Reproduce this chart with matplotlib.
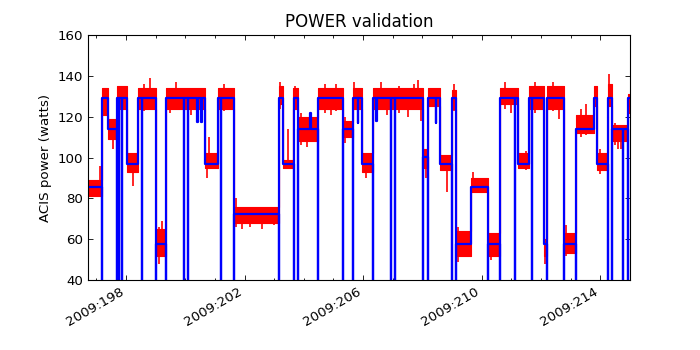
"""ACIS power validation: telemetry (red) vs model (blue), 2009:197-215."""
import numpy as np
import matplotlib
matplotlib.use("Agg")
import matplotlib.pyplot as plt

# model (blue): segment start day-of-year, power level (W), zero-drop at start
model_t = [196.72, 197.18, 197.40, 197.71, 197.76, 197.88, 198.03, 198.42, 198.53,
           199.00, 199.34, 199.96, 200.10, 200.40, 200.42, 200.54, 200.56, 200.67,
           201.09, 201.21, 201.65, 203.17, 203.31, 203.66, 203.79, 204.22, 204.25,
           204.47, 205.31, 205.67, 205.82, 205.84, 205.96, 206.32, 206.45, 206.47,
           206.93, 207.06, 208.03, 208.20, 208.45, 208.47, 208.59, 208.99, 209.12,
           209.63, 210.20, 210.62, 211.12, 211.23, 211.59, 211.71, 212.10, 212.19,
           212.78, 213.18, 213.79, 213.88, 214.27, 214.38, 214.75, 214.94]
model_v = [85.7, 129.3, 114.1, 129.3, 129.3, 129.3, 96.6, 129.3, 129.3,
           57.5, 129.3, 129.3, 129.3, 117.5, 129.3, 117.5, 129.3, 96.6,
           129.3, 129.3, 72.3, 129.3, 96.6, 129.3, 114.1, 122.0, 114.1,
           129.3, 114.1, 129.3, 117.0, 129.3, 96.6, 129.3, 118.0, 129.3,
           129.3, 129.3, 100.4, 129.3, 116.8, 129.3, 96.6, 129.3, 57.5,
           85.7, 57.5, 129.3, 129.3, 96.6, 129.3, 129.3, 57.5, 129.3,
           57.5, 114.1, 129.3, 96.6, 129.3, 114.1, 114.1, 129.3]
model_gap = [0, 1, 0, 1, 1, 1, 0, 0, 1,
             1, 1, 1, 1, 0, 0, 0, 0, 0,
             0, 1, 1, 1, 0, 1, 1, 0, 0,
             1, 1, 1, 0, 0, 0, 1, 0, 0,
             1, 1, 1, 1, 0, 0, 0, 1, 1,
             0, 1, 1, 1, 0, 0, 1, 0, 1,
             1, 1, 0, 0, 1, 1, 1, 1]
t_end = 215.0

# telemetry (red): segment start day, envelope low / high (W)
tlm_t = [196.72, 197.18, 197.40, 197.71, 198.03, 198.42, 199.00, 199.34, 200.67,
         201.09, 201.65, 203.17, 203.31, 203.64, 203.79, 204.47, 205.31, 205.67,
         205.96, 206.32, 208.03, 208.20, 208.59, 208.99, 209.12, 209.63, 210.20,
         210.62, 211.23, 211.59, 212.10, 212.19, 212.78, 213.18, 213.79, 213.88,
         214.27, 214.38, 214.94]
tlm_lo = [81, 121, 109, 124, 93, 124, 52, 124, 95,
          124, 68, 126, 95, 124, 108, 124, 110, 124,
          93, 124, 95, 125, 94, 124, 52, 83, 52,
          126, 95, 124, 52, 124, 53, 112, 125, 94,
          125, 108, 122]
tlm_hi = [89, 134, 119, 135, 102, 134, 65, 134, 102,
          134, 76, 135, 99, 134, 120, 134, 118, 134,
          102, 134, 104, 134, 101, 133, 64, 90, 63,
          134, 102, 135, 60, 135, 63, 121, 135, 102,
          136, 116, 131]

# telemetry excursions beyond the envelope: day, low, high
spike_t = [197.12, 197.55, 198.25, 198.81, 199.10, 199.20, 200.75, 200.80, 201.70,
           201.90, 203.20, 203.46, 203.90, 204.10, 205.40, 205.70, 206.10, 207.85,
           207.95, 208.12, 208.82, 209.05, 209.20, 209.70, 210.30, 211.50, 212.15,
           212.85, 213.35, 214.00, 214.28, 214.60,
           198.60, 199.50, 199.70, 200.20, 201.30, 203.70, 204.70, 204.90, 205.10,
           206.60, 206.80, 207.20, 207.50, 207.70, 210.80, 211.00, 211.80, 212.40,
           212.60, 202.20, 202.60, 203.00, 213.50, 214.50, 214.70]
spike_lo = [84, 104, 86, 128, 48, 56, 90, 96, 66,
            65, 124, 96, 106, 105, 107, 126, 90, 124,
            118, 90, 83, 123, 49, 84, 50, 94, 48,
            52, 110, 92, 125, 104,
            123, 122, 125, 121, 123, 126, 122, 121, 123,
            125, 121, 122, 120, 126, 124, 122, 122, 123,
            119, 66, 65, 67, 111, 106, 104]
spike_hi = [96, 116, 100, 139, 66, 69, 100, 110, 80,
            74, 137, 114, 122, 118, 120, 137, 101, 138,
            128, 100, 96, 136, 66, 93, 62, 103, 60,
            67, 124, 104, 141, 116,
            136, 133, 137, 131, 136, 135, 136, 133, 136,
            137, 133, 135, 131, 136, 137, 133, 137, 137,
            131, 75, 74, 73, 126, 117, 113]

major_days = [198, 202, 206, 210, 214]
major_labels = ["2009:198", "2009:202", "2009:206", "2009:210", "2009:214"]

plt.rcParams["font.family"] = "DejaVu Sans"
plt.rcParams["font.size"] = 9.6

fig = plt.figure(figsize=(7, 3.5), dpi=100)
ax = fig.add_axes([0.1257, 0.2, 0.9 - 0.1257, 0.7])

# red telemetry envelope
rt = np.array(tlm_t + [t_end])
rlo = np.array(tlm_lo + [tlm_lo[-1]])
rhi = np.array(tlm_hi + [tlm_hi[-1]])
ax.fill_between(rt, rlo, rhi, step="post", color="r", lw=0.8, edgecolor="r")
ax.vlines(spike_t, spike_lo, spike_hi, color="r", lw=1.2)

# blue model as steps with brief zero drops
bx, by = [], []
for i, (t, v, g) in enumerate(zip(model_t, model_v, model_gap)):
    if i > 0:
        bx.append(t); by.append(model_v[i - 1])
        if g:
            bx += [t, t]; by += [0.0, 0.0]
    bx.append(t); by.append(v)
bx.append(t_end); by.append(model_v[-1])
ax.plot(bx, by, "-", color="b", lw=1.6)

ax.set_xlim(196.72, t_end)
ax.set_ylim(40, 160)
ax.set_xticks(major_days)
ax.set_xticklabels(major_labels, rotation=30, ha="right")
ax.set_xticks(np.arange(197, 215), minor=True)
ax.set_yticks(np.arange(40, 161, 20))
ax.tick_params(which="both", direction="in", top=True, right=True)
ax.tick_params(which="major", length=3.5, width=0.6)
ax.tick_params(which="minor", length=1.8, width=0.6)
for s in ax.spines.values():
    s.set_linewidth(0.8)

ax.set_title("POWER validation", fontsize=12)
ax.set_ylabel("ACIS power (watts)")

fig.savefig("out.png", dpi=100)
